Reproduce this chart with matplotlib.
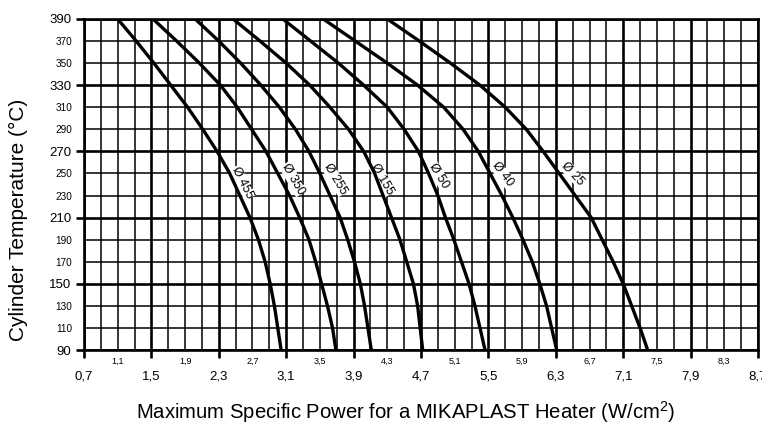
import numpy as np
import matplotlib
matplotlib.use('Agg')
import matplotlib.pyplot as plt

plt.rcParams['font.family'] = ['Liberation Sans', 'DejaVu Sans']

# temperatures (top to bottom) and power read for each cylinder diameter
temps = [390, 370, 350, 330, 310, 290, 270, 250, 230, 210, 190, 170, 150, 130, 110, 90]
p455 = [1.10, 1.32, 1.53, 1.73, 1.93, 2.11, 2.28, 2.43, 2.55, 2.67, 2.77, 2.85, 2.91, 2.96, 3.00, 3.04]
p350 = [1.52, 1.80, 2.07, 2.32, 2.52, 2.69, 2.86, 3.00, 3.14, 3.26, 3.37, 3.45, 3.52, 3.59, 3.65, 3.69]
p255 = [2.02, 2.30, 2.56, 2.80, 3.02, 3.21, 3.37, 3.50, 3.62, 3.74, 3.83, 3.91, 3.98, 4.03, 4.07, 4.11]
p155 = [2.47, 2.79, 3.10, 3.38, 3.62, 3.84, 4.02, 4.15, 4.25, 4.35, 4.45, 4.53, 4.61, 4.66, 4.69, 4.72]
p50 = [3.06, 3.39, 3.72, 4.02, 4.30, 4.50, 4.67, 4.79, 4.90, 4.99, 5.09, 5.18, 5.27, 5.34, 5.40, 5.46]
p40 = [3.54, 3.92, 4.30, 4.66, 4.97, 5.20, 5.38, 5.52, 5.66, 5.79, 5.91, 6.02, 6.11, 6.19, 6.25, 6.31]
p25 = [4.30, 4.68, 5.05, 5.40, 5.70, 5.95, 6.15, 6.34, 6.53, 6.72, 6.85, 6.98, 7.10, 7.20, 7.30, 7.39]

curves = [p455, p350, p255, p155, p50, p40, p25]
names = ['Ø 455', 'Ø 350', 'Ø 255', 'Ø 155', 'Ø 50', 'Ø 40', 'Ø 25']
label_x = [2.58, 3.18, 3.68, 4.24, 4.91, 5.67, 6.50]
label_t = [242, 245, 245, 245, 248, 249, 250]
label_rot = [63, 60, 59, 60, 58, 53, 47]

x_major = [0.7, 1.5, 2.3, 3.1, 3.9, 4.7, 5.5, 6.3, 7.1, 7.9, 8.7]
x_minor = [1.1, 1.9, 2.7, 3.5, 4.3, 5.1, 5.9, 6.7, 7.5, 8.3]
y_major = [90, 150, 210, 270, 330, 390]
y_minor = [110, 130, 170, 190, 230, 250, 290, 310, 350, 370]

fig = plt.figure(figsize=(7.62, 4.24), dpi=100)
ax = fig.add_axes([0.1102, 0.1745, 0.8846, 0.7807])
ax.set_xlim(0.7, 8.7)
ax.set_ylim(90, 390)

# grid paper
for i, v in enumerate(np.arange(0.7, 8.71, 0.2)):
    ax.axvline(v, color='black', lw=1.9 if i % 4 == 0 else 1.1, zorder=1)
for t in range(90, 391, 20):
    ax.axhline(t, color='black', lw=1.9 if (t - 90) % 60 == 0 else 1.1, zorder=1)

for s in ax.spines.values():
    s.set_linewidth(1.9)

for vals in curves:
    ax.plot(vals, temps, color='black', lw=2.4, zorder=3)

for name, x, t, r in zip(names, label_x, label_t, label_rot):
    ax.text(x, t, name, rotation=-r, rotation_mode='anchor', ha='center', va='center',
            fontsize=9, zorder=2.5,
            bbox=dict(fc='white', ec='none', pad=0.3))

fmt = lambda v: f'{v:.1f}'.replace('.', ',')
ax.set_xticks(x_major, [fmt(v) for v in x_major])
ax.set_xticks(x_minor, [fmt(v) for v in x_minor], minor=True)
ax.set_yticks(y_major, [str(v) for v in y_major])
ax.set_yticks(y_minor, [str(v) for v in y_minor], minor=True)

ax.tick_params(axis='both', which='major', length=6, width=1.9, labelsize=9.5, color='black')
ax.tick_params(axis='x', which='major', pad=9)
ax.tick_params(axis='y', which='major', pad=3)
ax.tick_params(axis='x', which='minor', length=0, labelsize=6.5, pad=5)
ax.tick_params(axis='y', which='minor', length=0, labelsize=7.2, pad=8.5)

ax.set_ylabel('Cylinder Temperature (°C)', fontsize=15)
ax.yaxis.set_label_coords(-0.083, 0.393)
ax.set_xlabel('Maximum Specific Power for a MIKAPLAST Heater (W/cm$^{\\mathregular{2}}$)',
              fontsize=14.6)
ax.xaxis.set_label_coords(0.478, -0.147)

fig.savefig('out.png', dpi=100)
